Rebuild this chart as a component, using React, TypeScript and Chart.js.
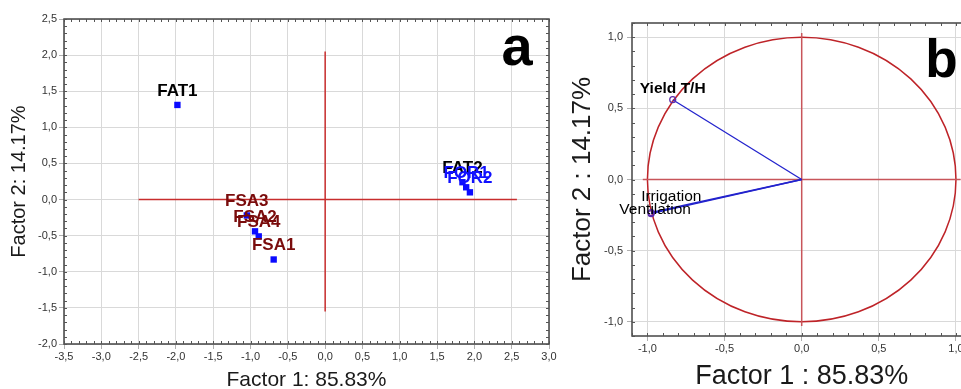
import React, { useEffect, useRef } from "react";
import { Chart, registerables } from "chart.js";
Chart.register(...registerables);

const FONT = "'Liberation Sans', Arial, Helvetica, sans-serif";

// ---- Panel a: observation scores ----
const OBS_NAMES = ["FAT1", "FAT2", "FOR1", "FOR2", "FSA3", "FSA2", "FSA4", "FSA1"];
const OBS_F1 = [-1.98, 1.84, 1.89, 1.94, -1.05, -0.94, -0.89, -0.69];
const OBS_F2 = [1.31, 0.24, 0.17, 0.1, -0.22, -0.44, -0.51, -0.83];
const OBS_GROUP = ["FAT", "FAT", "FOR", "FOR", "FSA", "FSA", "FSA", "FSA"];
const A_X_TICKS = [-3.5, -3.0, -2.5, -2.0, -1.5, -1.0, -0.5, 0.0, 0.5, 1.0, 1.5, 2.0, 2.5, 3.0];
const A_Y_TICKS = [-2.0, -1.5, -1.0, -0.5, 0.0, 0.5, 1.0, 1.5, 2.0, 2.5];
const A_HLINE_X = [-2.5, 2.57];
const A_VLINE_Y = [-1.55, 2.05];

// ---- Panel b: variable loadings ----
const VAR_NAMES = ["Yield T/H", "Irrigation", "Ventilation"];
const VAR_F1 = [-0.836, -0.975, -0.976];
const VAR_F2 = [0.561, -0.232, -0.24];
const B_TICKS = [-1.0, -0.5, 0.0, 0.5, 1.0];
const B_REF = [-1.03, 1.03];

// ---- styles ----
const GROUP_COLORS: Record<string, string> = { FAT: "#000000", FOR: "#1010ff", FSA: "#7a0c0c" };
const VAR_LABEL_STYLE: Record<string, { dx: number; dy: number; bold: boolean }> = {
  "Yield T/H": { dx: 0, dy: -11, bold: true },
  Irrigation: { dx: 20, dy: -16, bold: false },
  Ventilation: { dx: 4, dy: -4, bold: false },
};

const fmt = (v: any) => Number(v).toFixed(1).replace(".", ",");

function framePlugin(id: string, step: number) {
  return {
    id,
    beforeDatasetsDraw(chart: any) {
      const { ctx, chartArea: ca, scales } = chart;
      const xs = scales.x, ys = scales.y;
      ctx.save();
      ctx.strokeStyle = "#444";
      ctx.lineWidth = 1.5;
      ctx.strokeRect(ca.left, ca.top, ca.right - ca.left, ca.bottom - ca.top);
      ctx.lineWidth = 1;
      ctx.strokeStyle = "#555";
      ctx.beginPath();
      const len = 3;
      for (let k = Math.ceil(xs.min / step - 1e-9); k <= Math.floor(xs.max / step + 1e-9); k++) {
        const px = Math.round(xs.getPixelForValue(k * step)) + 0.5;
        ctx.moveTo(px, ca.bottom); ctx.lineTo(px, ca.bottom - len);
        ctx.moveTo(px, ca.top); ctx.lineTo(px, ca.top + len);
      }
      for (let k = Math.ceil(ys.min / step - 1e-9); k <= Math.floor(ys.max / step + 1e-9); k++) {
        const py = Math.round(ys.getPixelForValue(k * step)) + 0.5;
        ctx.moveTo(ca.left, py); ctx.lineTo(ca.left + len, py);
        ctx.moveTo(ca.right, py); ctx.lineTo(ca.right - len, py);
      }
      ctx.stroke();
      ctx.restore();
    },
  };
}

function letterPlugin(id: string, text: string, size: number, dx: number, dy: number) {
  return {
    id,
    afterDraw(chart: any) {
      const { ctx, chartArea: ca } = chart;
      ctx.save();
      ctx.font = `bold ${size}px ${FONT}`;
      ctx.fillStyle = "#000";
      ctx.textAlign = "center";
      ctx.textBaseline = "alphabetic";
      ctx.fillText(text, ca.right + dx, ca.top + dy);
      ctx.restore();
    },
  };
}

const gridCfg = { color: "#d9d9d9", lineWidth: 1, drawTicks: true, tickLength: 5, tickColor: "#b0b0b0" };
const tickFont = { family: FONT, size: 11 };

export default function App() {
  const aRef = useRef<HTMLCanvasElement>(null);
  const bRef = useRef<HTMLCanvasElement>(null);

  useEffect(() => {
    const obsLabels = {
      id: "obsLabels",
      afterDatasetsDraw(chart: any) {
        const { ctx, scales } = chart;
        ctx.save();
        ctx.font = `bold 17px ${FONT}`;
        ctx.textAlign = "center";
        ctx.textBaseline = "middle";
        OBS_NAMES.forEach((n, i) => {
          ctx.fillStyle = GROUP_COLORS[OBS_GROUP[i]];
          ctx.fillText(n, scales.x.getPixelForValue(OBS_F1[i]), scales.y.getPixelForValue(OBS_F2[i]) - 14);
        });
        ctx.restore();
      },
    };

    const chartA = new Chart(aRef.current!, {
      type: "scatter",
      data: {
        datasets: [
          {
            data: OBS_F1.map((x, i) => ({ x, y: OBS_F2[i] })),
            pointStyle: "rect",
            pointRadius: 4.5,
            pointBackgroundColor: "#0a0aff",
            pointBorderColor: "#0a0aff",
            pointBorderWidth: 0,
          },
          {
            data: A_HLINE_X.map((x) => ({ x, y: 0 })),
            showLine: true,
            pointRadius: 0,
            borderColor: "rgb(200,45,45)",
            borderWidth: 1.5,
          },
          {
            data: A_VLINE_Y.map((y) => ({ x: 0, y })),
            showLine: true,
            pointRadius: 0,
            borderColor: "rgb(200,45,45)",
            borderWidth: 1.5,
          },
        ],
      } as any,
      options: {
        responsive: false,
        animation: false,
        devicePixelRatio: 1,
        layout: { padding: { top: 19, left: 0, right: 21, bottom: 0 } },
        plugins: { legend: { display: false }, tooltip: { enabled: false } },
        scales: {
          x: {
            type: "linear",
            min: -3.5,
            max: 3.0,
            afterBuildTicks: (s: any) => { s.ticks = A_X_TICKS.map((v) => ({ value: v })); },
            afterFit: (s: any) => { s.height = 45; },
            grid: gridCfg,
            border: { display: false },
            ticks: { callback: fmt, font: tickFont, color: "#333", padding: 1, maxRotation: 0, autoSkip: false },
            title: { display: true, text: "Factor 1: 85.83%", font: { family: FONT, size: 21, lineHeight: 1 }, color: "#1a1a1a", padding: { top: 0, bottom: -1.5 } },
          },
          y: {
            type: "linear",
            min: -2.0,
            max: 2.5,
            afterBuildTicks: (s: any) => { s.ticks = A_Y_TICKS.map((v) => ({ value: v })); },
            afterFit: (s: any) => { s.width = 64; },
            grid: gridCfg,
            border: { display: false },
            ticks: { callback: fmt, font: tickFont, color: "#333", padding: 2, autoSkip: false },
            title: { display: true, text: "Factor 2: 14.17%", font: { family: FONT, size: 20, lineHeight: 1.2 }, color: "#1a1a1a", padding: { top: 7, bottom: 0 } },
          },
        },
      } as any,
      plugins: [framePlugin("frameA", 0.1), obsLabels, letterPlugin("letterA", "a", 56, -32, 46)],
    });

    const circlePlugin = {
      id: "circle",
      beforeDatasetsDraw(chart: any) {
        const { ctx, scales } = chart;
        const cx = scales.x.getPixelForValue(0);
        const cy = scales.y.getPixelForValue(0);
        const rx = scales.x.getPixelForValue(1) - cx;
        const ry = cy - scales.y.getPixelForValue(1);
        ctx.save();
        ctx.strokeStyle = "rgb(190,35,40)";
        ctx.lineWidth = 1.5;
        ctx.beginPath();
        ctx.ellipse(cx, cy, rx, ry, 0, 0, Math.PI * 2);
        ctx.stroke();
        ctx.restore();
      },
    };

    const varLabels = {
      id: "varLabels",
      afterDatasetsDraw(chart: any) {
        const { ctx, scales } = chart;
        ctx.save();
        ctx.textAlign = "center";
        ctx.textBaseline = "middle";
        ctx.fillStyle = "#000";
        VAR_NAMES.forEach((n, i) => {
          const st = VAR_LABEL_STYLE[n];
          ctx.font = `${st.bold ? "bold " : ""}15.5px ${FONT}`;
          ctx.fillText(n, scales.x.getPixelForValue(VAR_F1[i]) + st.dx, scales.y.getPixelForValue(VAR_F2[i]) + st.dy);
        });
        ctx.restore();
      },
    };

    const chartB = new Chart(bRef.current!, {
      type: "scatter",
      data: {
        datasets: [
          ...VAR_NAMES.map((_, i) => ({
            data: [{ x: 0, y: 0 }, { x: VAR_F1[i], y: VAR_F2[i] }],
            showLine: true,
            borderColor: "rgb(35,35,205)",
            borderWidth: 1.3,
            pointRadius: (c: any) => (c.dataIndex === 1 ? 3 : 0),
            pointBackgroundColor: "rgba(0,0,0,0)",
            pointBorderColor: "rgb(90,40,170)",
            pointBorderWidth: 1.2,
          })),
          {
            data: B_REF.map((x) => ({ x, y: 0 })),
            showLine: true,
            pointRadius: 0,
            borderColor: "rgb(200,85,90)",
            borderWidth: 1.5,
          },
          {
            data: B_REF.map((y) => ({ x: 0, y })),
            showLine: true,
            pointRadius: 0,
            borderColor: "rgb(200,85,90)",
            borderWidth: 1.5,
          },
        ],
      } as any,
      options: {
        responsive: false,
        animation: false,
        devicePixelRatio: 1,
        layout: { padding: { top: 23, left: 0, right: 28.6, bottom: 0 } },
        plugins: { legend: { display: false }, tooltip: { enabled: false } },
        scales: {
          x: {
            type: "linear",
            min: -1.1,
            max: 1.1,
            afterBuildTicks: (s: any) => { s.ticks = B_TICKS.map((v) => ({ value: v })); },
            afterFit: (s: any) => { s.height = 53; },
            grid: gridCfg,
            border: { display: false },
            ticks: { callback: fmt, font: tickFont, color: "#333", padding: 1, maxRotation: 0, autoSkip: false },
            title: { display: true, text: "Factor 1 : 85.83%", font: { family: FONT, size: 27, lineHeight: 1 }, color: "#1a1a1a", padding: { top: 0, bottom: -1 } },
          },
          y: {
            type: "linear",
            min: -1.1,
            max: 1.1,
            afterBuildTicks: (s: any) => { s.ticks = B_TICKS.map((v) => ({ value: v })); },
            afterFit: (s: any) => { s.width = 72; },
            grid: gridCfg,
            border: { display: false },
            ticks: { callback: fmt, font: tickFont, color: "#333", padding: 4, autoSkip: false },
            title: { display: true, text: "Factor 2 : 14.17%", font: { family: FONT, size: 26, lineHeight: 1.2 }, color: "#1a1a1a", padding: { top: 7.4, bottom: 0 } },
          },
        },
      } as any,
      plugins: [framePlugin("frameB", 0.1), circlePlugin, varLabels, letterPlugin("letterB", "b", 53, -30, 54)],
    });

    return () => {
      chartA.destroy();
      chartB.destroy();
    };
  }, []);

  return (
    <div style={{ position: "fixed", left: 0, top: 0, width: 961, height: 389, overflow: "hidden", background: "#fff" }}>
      <canvas ref={aRef} width={570} height={389} style={{ position: "absolute", left: 0, top: 0, width: 570, height: 389 }} />
      <canvas ref={bRef} width={440} height={389} style={{ position: "absolute", left: 560, top: 0, width: 440, height: 389 }} />
    </div>
  );
}
